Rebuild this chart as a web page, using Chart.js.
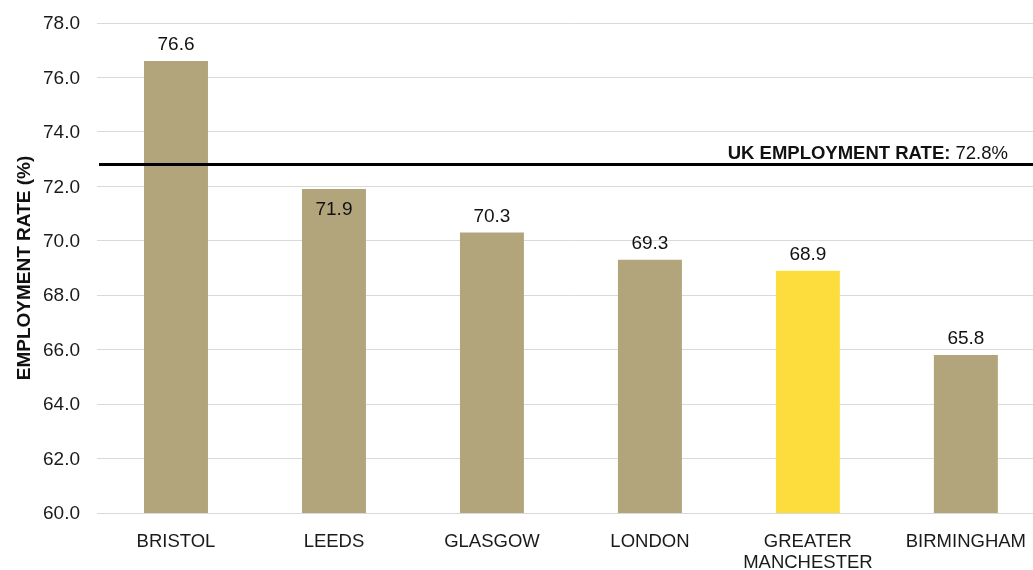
<!DOCTYPE html>
<html>
<head>
<meta charset="utf-8">
<script src="https://cdn.jsdelivr.net/npm/chart.js@4.4.1/dist/chart.umd.min.js"></script>
<style>
  html, body { margin: 0; padding: 0; background: #fff; overflow: hidden; }
  #wrap { width: 1045px; height: 570px; }
</style>
</head>
<body>
<div id="wrap"><canvas id="rateChart"></canvas></div>
<script>
// city employment rates
const cities = ['BRISTOL', 'LEEDS', 'GLASGOW', 'LONDON', ['GREATER', 'MANCHESTER'], 'BIRMINGHAM'];
const rates = [76.6, 71.9, 70.3, 69.3, 68.9, 65.8];
const highlightCity = 4;   // Greater Manchester
const ukRate = 72.8;
const yTicks = [60, 62, 64, 66, 68, 70, 72, 74, 76, 78];

const tan = '#b3a57b';
const yellow = '#fddd3d';
const FONT = "'Liberation Sans', Arial, Helvetica, sans-serif";

const barColors = rates.map((v, i) => i === highlightCity ? yellow : tan);

// draws the UK benchmark line, its caption and the value labels
const overlay = {
    id: 'overlay',
    afterDatasetsDraw(chart) {
        const ctx = chart.ctx;
        const y = chart.scales.y;
        const area = chart.chartArea;
        const lineY = y.getPixelForValue(ukRate);

        ctx.save();
        ctx.strokeStyle = '#000';
        ctx.lineWidth = 3;
        ctx.beginPath();
        ctx.moveTo(area.left + 2, lineY);
        ctx.lineTo(chart.width, lineY);
        ctx.stroke();

        // caption: bold title + plain value, right aligned
        const bold = 'bold 18.5px ' + FONT;
        const plain = '18.5px ' + FONT;
        const t1 = 'UK EMPLOYMENT RATE: ';
        const t2 = ukRate.toFixed(1) + '%';
        ctx.font = plain;
        const w2 = ctx.measureText(t2).width;
        ctx.font = bold;
        const w1 = ctx.measureText(t1).width;
        const right = 1008;
        ctx.fillStyle = '#111';
        ctx.textBaseline = 'middle';
        ctx.textAlign = 'left';
        ctx.fillText(t1, right - w2 - w1, lineY - 11);
        ctx.font = plain;
        ctx.fillText(t2, right - w2, lineY - 11);

        // value labels; the one just under the UK line goes inside its bar
        ctx.font = '19px ' + FONT;
        ctx.textAlign = 'center';
        const meta = chart.getDatasetMeta(0);
        meta.data.forEach((bar, i) => {
            const v = rates[i];
            const inside = v < ukRate && ukRate - v < 1.2;
            const ty = inside ? bar.y + 21 : bar.y - 16;
            ctx.fillText(v.toFixed(1), bar.x, ty);
        });
        ctx.restore();
    }
};

new Chart(document.getElementById('rateChart'), {
    type: 'bar',
    data: {
        labels: cities,
        datasets: [{
            data: rates,
            backgroundColor: barColors,
            borderWidth: 0,
            barPercentage: 0.405,
            categoryPercentage: 1
        }]
    },
    options: {
        responsive: true,
        maintainAspectRatio: false,
        animation: false,
        layout: { padding: { top: 23, left: 0, right: 0, bottom: 0 } },
        plugins: {
            legend: { display: false },
            tooltip: { enabled: false }
        },
        scales: {
            x: {
                grid: { display: false, drawTicks: false },
                border: { display: false },
                ticks: {
                    color: '#1a1a1a',
                    font: { family: FONT, size: 18.5, lineHeight: 1.1 },
                    padding: 19,
                    maxRotation: 0,
                    autoSkip: false
                },
                afterFit(scale) { scale.height = 57; }
            },
            y: {
                min: 60,
                max: 78,
                afterBuildTicks(scale) { scale.ticks = yTicks.map(v => ({ value: v })); },
                grid: { color: '#d9d9d9', lineWidth: 1, drawTicks: false },
                border: { display: false },
                ticks: {
                    color: '#1a1a1a',
                    font: { family: FONT, size: 19 },
                    padding: 17,
                    labelOffset: 1,
                    callback: v => Number(v).toFixed(1)
                },
                title: {
                    display: true,
                    text: 'EMPLOYMENT RATE (%)',
                    color: '#111',
                    font: { family: FONT, size: 19, weight: 'bold' },
                    padding: { top: 13, bottom: 0 }
                },
                afterFit(scale) {
                    scale.width = 97;
                    scale.paddingTop = 0;
                    scale.paddingBottom = 0;
                }
            }
        }
    },
    plugins: [overlay]
});
</script>
</body>
</html>
